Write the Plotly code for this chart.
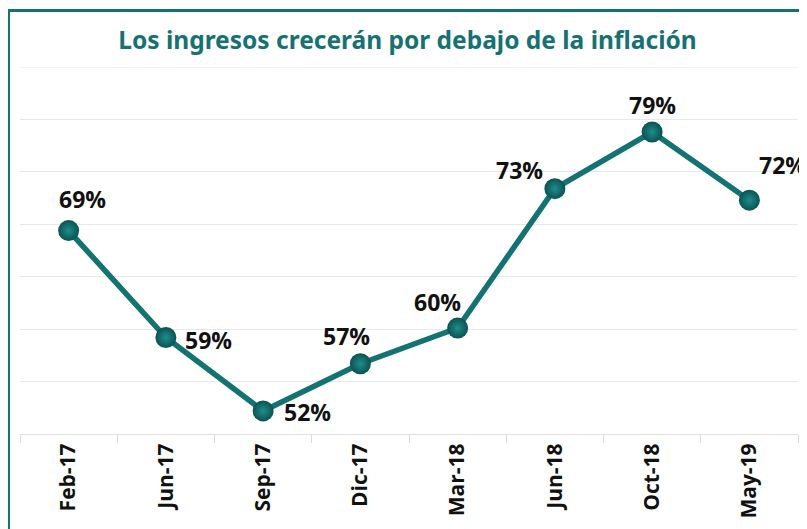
import plotly.graph_objects as go

categories = ["Feb-17", "Jun-17", "Sep-17", "Dic-17", "Mar-18", "Jun-18", "Oct-18", "May-19"]
values = [69.4, 59.2, 52.2, 56.7, 60.1, 73.4, 78.8, 72.3]
labels = ["69%", "59%", "52%", "57%", "60%", "73%", "79%", "72%"]
title_text = "Los ingresos crecerán por debajo de la inflación"

# label offsets (px) relative to each point
label_dx = [14, 43, 44, -14, -20, -35, 0, 33]
label_dy = [32, -2, -1, 28, 26, 19, 27, 35]

teal = "#137272"

# The page body has an 8px default margin, so the figure is sized to fit.
W, H = 799, 521
L, R, T, B = 12, 9, 59, 95

fig = go.Figure()
fig.add_trace(go.Scatter(
    x=categories, y=values, mode="lines+markers",
    line=dict(color=teal, width=5.5),
    marker=dict(size=21, color="#0b5252",
                gradient=dict(type="radial", color="#1f8c8c"),
                line=dict(width=0)),
    hoverinfo="skip", showlegend=False,
))

for c, v, t, dx, dy in zip(categories, values, labels, label_dx, label_dy):
    fig.add_annotation(x=c, y=v, text=t, showarrow=False, xshift=dx, yshift=dy,
                       font=dict(family="Open Sans", size=23, color="#111111", weight="bold"))

fig.update_layout(
    width=W, height=H,
    margin=dict(l=L, r=R, t=T, b=B, autoexpand=False),
    paper_bgcolor="white", plot_bgcolor="white",
    title=dict(text=title_text, x=0.5, xanchor="center", y=1 - 32 / H, yanchor="middle",
               font=dict(family="Noto Sans", size=24.5, color="#167272", weight="bold")),
    xaxis=dict(type="category", range=[-0.5, 7.5], tickson="boundaries", automargin=False,
               ticks="outside", ticklen=8, tickcolor="#d9d9d9",
               showline=True, linecolor="#e0e0e0", linewidth=1,
               showgrid=False, tickangle=-90,
               tickfont=dict(family="Open Sans", size=21, color="#111111", weight="bold")),
    yaxis=dict(range=[50, 85], tick0=50, dtick=5, showgrid=True, gridcolor="#e8e8e8", gridwidth=1,
               showticklabels=False, zeroline=False, showline=False, fixedrange=True,
               automargin=False),
)

# top gridline at the range edge
fig.add_shape(type="line", xref="paper", yref="y", x0=0, x1=1, y0=85, y1=85,
              line=dict(color="#e8e8e8", width=1), layer="below")

ph = H - T - B
pw = W - L - R
top_y = (H - B - 2.5) / ph
# teal frame (left and top edges visible)
fig.add_shape(type="line", xref="paper", yref="paper",
              x0=(0.5 - L) / pw, x1=(0.5 - L) / pw, y0=top_y + 1.5 / ph, y1=-B / ph - 0.1,
              line=dict(color=teal, width=3))
fig.add_shape(type="line", xref="paper", yref="paper",
              x0=(-1 - L) / pw, x1=1.1, y0=top_y, y1=top_y,
              line=dict(color=teal, width=3))

fig.write_html("out.html")
